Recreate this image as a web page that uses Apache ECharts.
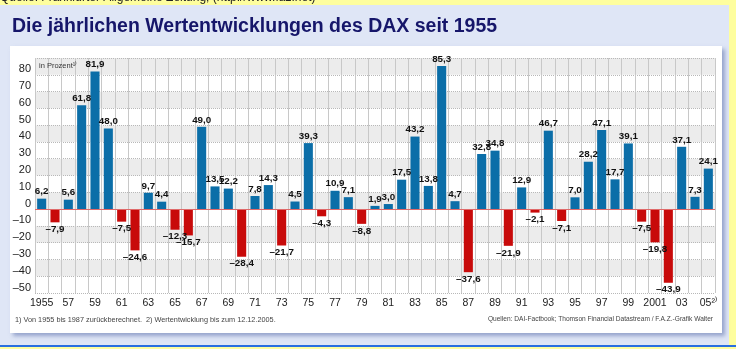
<!DOCTYPE html>
<html>
<head>
<meta charset="utf-8">
<script src="https://cdn.jsdelivr.net/npm/echarts@6/dist/echarts.min.js"></script>
<style>
html,body{margin:0;padding:0;background:#fefe9e;}
#chart{width:736px;height:349px;}
</style>
</head>
<body>
<div id="chart"></div>
<script>
const years = [1955,1956,1957,1958,1959,1960,1961,1962,1963,1964,1965,1966,1967,1968,1969,1970,1971,1972,1973,1974,1975,1976,1977,1978,1979,1980,1981,1982,1983,1984,1985,1986,1987,1988,1989,1990,1991,1992,1993,1994,1995,1996,1997,1998,1999,2000,2001,2002,2003,2004,2005];
const changes = [6.2,-7.9,5.6,61.8,81.9,48.0,-7.5,-24.6,9.7,4.4,-12.3,-15.7,49.0,13.5,12.2,-28.4,7.8,14.3,-21.7,4.5,39.3,-4.3,10.9,7.1,-8.8,1.9,3.0,17.5,43.2,13.8,85.3,4.7,-37.6,32.8,34.8,-21.9,12.9,-2.1,46.7,-7.1,7.0,28.2,47.1,17.7,39.1,-7.5,-19.8,-43.9,37.1,7.3,24.1];
const xTickLabels = ['1955','57','59','61','63','65','67','69','71','73','75','77','79','81','83','85','87','89','91','93','95','97','99','2001','03','05²⁾'];
const yMin = -50, yMax = 90, yStep = 10;

const BLUE = '#0b6ea8', RED = '#c80a0a';
const FONT = '"Liberation Sans", Arial, sans-serif';
const fmt = v => (v < 0 ? '–' : '') + Math.abs(v).toFixed(1).replace('.', ',');

const chart = echarts.init(document.getElementById('chart'), null, {renderer: 'canvas'});
chart.setOption({
  backgroundColor: '#fefe9e',
  animation: false,
  grid: {left: 35, right: 21, top: 58, bottom: 56, containLabel: false},
  xAxis: {
    type: 'category',
    data: years.map(String),
    boundaryGap: true,
    axisLine: {show: false},
    axisTick: {show: false},
    axisLabel: {
      interval: 1,
      margin: 5,
      fontFamily: FONT, fontSize: 10.5, color: '#222',
      formatter: (v, i) => xTickLabels[i / 2]
    },
    splitLine: {show: true, interval: 0, lineStyle: {color: '#c8c8c8', width: 1}}
  },
  yAxis: {
    type: 'value',
    min: yMin, max: yMax, interval: yStep,
    axisLine: {show: false},
    axisTick: {show: false},
    axisLabel: {
      margin: 4, verticalAlign: 'bottom',
      fontFamily: FONT, fontSize: 11, color: '#222',
      formatter: v => v === yMax ? '' : (v < 0 ? '–' + Math.abs(v) : String(v))
    },
    splitLine: {lineStyle: {color: '#b8b8b8', type: 'dotted', width: 1}},
    splitArea: {show: true, areaStyle: {color: ['#ffffff', '#ececec']}}
  },
  series: [{
    type: 'bar',
    barWidth: '68%',
    data: changes.map(v => ({
      value: v,
      itemStyle: {color: v >= 0 ? BLUE : RED},
      label: {position: v >= 0 ? 'top' : 'bottom'}
    })),
    label: {
      show: true, distance: 2,
      fontFamily: FONT, fontSize: 9.8, fontWeight: 'bold', color: '#111',
      formatter: p => fmt(p.value)
    },
    markLine: {
      silent: true, symbol: 'none',
      label: {show: false},
      lineStyle: {color: '#e06a6a', type: 'solid', width: 1},
      data: [{yAxis: 0}]
    }
  }],
  graphic: [
    {type: 'text', z: -90, left: 0, top: -8, style: {text: 'Quelle: Frankfurter Allgemeine Zeitung, (http://www.faz.net)', font: '12px "Liberation Sans", Arial', fill: '#222'}},
    {type: 'rect', z: -100, shape: {x: 0, y: 5, width: 729, height: 340}, style: {fill: '#dfe6f6'}},
    {type: 'rect', z: -99, shape: {x: 0, y: 345, width: 736, height: 2}, style: {fill: '#2a6fe0'}},
    {type: 'rect', z: -98, shape: {x: 10, y: 46, width: 712, height: 287}, style: {fill: '#ffffff', shadowBlur: 4, shadowColor: 'rgba(90,110,170,0.55)', shadowOffsetX: 3, shadowOffsetY: 3}},
    {type: 'text', z: 10, left: 12, top: 17, style: {text: 'Die jährlichen Wertentwicklungen des DAX seit 1955', font: 'bold 19.5px ' + FONT, fill: '#16166a'}},
    {type: 'text', z: 10, left: 39, top: 62, style: {text: 'in Prozent¹⁾', font: '7.5px ' + FONT, fill: '#333'}},
    {type: 'text', z: 10, left: 15, top: 316, style: {text: '1) Von 1955 bis 1987 zurückberechnet.  2) Wertentwicklung bis zum 12.12.2005.', font: '7.3px ' + FONT, fill: '#444'}},
    {type: 'text', z: 10, right: 23, top: 316, style: {text: 'Quellen: DAI-Factbook; Thomson Financial Datastream / F.A.Z.-Grafik Walter', font: '6.6px ' + FONT, fill: '#444'}}
  ]
});
</script>
</body>
</html>
